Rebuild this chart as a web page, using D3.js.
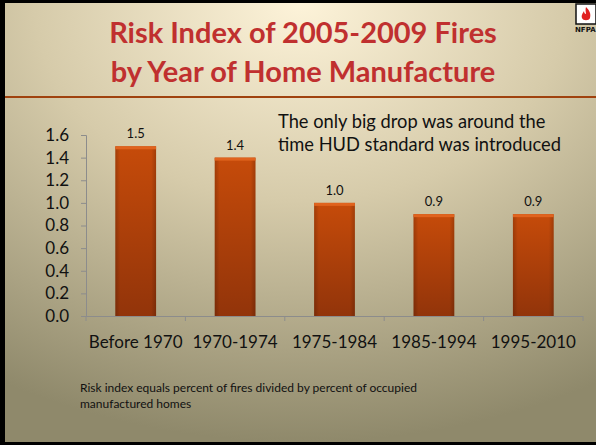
<!DOCTYPE html>
<html><head><meta charset="utf-8">
<script src="https://cdn.jsdelivr.net/npm/d3@7"></script>
<style>html,body{margin:0;padding:0;background:#000;}svg{display:block;}</style>
</head><body>
<svg id="c" width="596" height="445"></svg>
<script>
const categories = ["Before 1970","1970-1974","1975-1984","1985-1994","1995-2010"];
const values = [1.5, 1.4, 1.0, 0.9, 0.9];
const valueLabels = ["1.5","1.4","1.0","0.9","0.9"];
const yTicks = [0,0.2,0.4,0.6,0.8,1.0,1.2,1.4,1.6];
const titleLines = ["Risk Index of 2005-2009 Fires","by Year of Home Manufacture"];
const noteLines = ["The only big drop was around the","time HUD standard was introduced"];
const footLines = ["Risk index equals percent of fires divided by percent of occupied","manufactured homes"];

const svg = d3.select("#c");
const defs = svg.append("defs");
const FONT = "Lato, 'Open Sans', sans-serif";

// background gradient
const rg = defs.append("radialGradient").attr("id","bg")
  .attr("cx","0.5").attr("cy","0.0").attr("r","1.0").attr("fx","0.5").attr("fy","0.0");
rg.append("stop").attr("offset","0").attr("stop-color","#fdf3d9");
rg.append("stop").attr("offset","0.45").attr("stop-color","#d6cbaa");
rg.append("stop").attr("offset","1").attr("stop-color","#8f896b");

const bg = defs.append("linearGradient").attr("id","bar").attr("x1","0").attr("y1","0").attr("x2","0").attr("y2","1");
bg.append("stop").attr("offset","0").attr("stop-color","#c64b0a");
bg.append("stop").attr("offset","1").attr("stop-color","#92340a");
const bh = defs.append("linearGradient").attr("id","barh").attr("x1","0").attr("y1","0").attr("x2","1").attr("y2","0");
bh.append("stop").attr("offset","0").attr("stop-color","#000").attr("stop-opacity","0.18");
bh.append("stop").attr("offset","0.12").attr("stop-color","#000").attr("stop-opacity","0");
bh.append("stop").attr("offset","0.88").attr("stop-color","#000").attr("stop-opacity","0");
bh.append("stop").attr("offset","1").attr("stop-color","#000").attr("stop-opacity","0.18");

svg.append("rect").attr("x",5).attr("y",3).attr("width",591).attr("height",439).attr("fill","url(#bg)");

// title
svg.append("g").selectAll("text").data(titleLines).join("text")
  .attr("x",303).attr("y",(d,i)=>43+i*39).attr("text-anchor","middle")
  .attr("font-family",FONT).attr("font-weight","bold").attr("font-size",29)
  .attr("fill","#c0302f").text(d=>d);

// separator
svg.append("line").attr("x1",5).attr("x2",596).attr("y1",97).attr("y2",97)
  .attr("stroke","#a0420e").attr("stroke-width",2);

// logo
const lg = svg.append("g").attr("transform","translate(576,4)");
lg.append("rect").attr("x",0).attr("y",0).attr("width",20).attr("height",20).attr("fill","#fff").attr("stroke","#111").attr("stroke-width",1.5);
lg.append("path").attr("d","M10,3 C14,7 15,10 14,14 C13,17 7,17 6,14 C5,11 7,9 8,7 C8,9 9,10 10,10 C10,8 9,6 10,3Z").attr("fill","#e02020");
lg.append("text").attr("x",-1).attr("y",28).attr("font-family","DejaVu Sans, sans-serif").attr("font-weight","bold").attr("font-size",7).attr("fill","#111").text("NFPA");

// chart
const x = d3.scaleBand().domain(categories).range([86,583]).paddingInner(0.59).paddingOuter(0.295);
const y = d3.scaleLinear().domain([0,1.6]).range([316,135]);

const ax = svg.append("g").attr("transform","translate(86,0)")
  .call(d3.axisLeft(y).tickValues(yTicks).tickFormat(d3.format(".1f")).tickSize(5).tickPadding(12));
ax.select(".domain").attr("stroke","#8c8c8c");
ax.selectAll(".tick line").attr("stroke","#8c8c8c");
ax.selectAll("text").attr("font-family",FONT).attr("font-size",17).attr("fill","#111");

// x axis line and category ticks
const xb = d3.scaleBand().domain(categories).range([86,583]);
svg.append("line").attr("x1",86).attr("x2",583).attr("y1",316.5).attr("y2",316.5).attr("stroke","#8c8c8c");
svg.append("g").selectAll("line").data(categories.concat(["end"])).join("line")
  .attr("x1",(d,i)=>i<categories.length?xb(d):583).attr("x2",(d,i)=>i<categories.length?xb(d):583)
  .attr("y1",316).attr("y2",321).attr("stroke","#8c8c8c");
svg.append("g").selectAll("text").data(categories).join("text")
  .attr("x",d=>xb(d)+xb.bandwidth()/2).attr("y",348).attr("text-anchor","middle")
  .attr("font-family",FONT).attr("font-size",17).attr("fill","#111").text(d=>d);

// bars
const bars = svg.append("g");
bars.selectAll("rect.b").data(values).join("rect").attr("class","b")
  .attr("x",(d,i)=>x(categories[i])).attr("width",x.bandwidth())
  .attr("y",d=>y(d)).attr("height",d=>y(0)-y(d)).attr("fill","url(#bar)");
bars.selectAll("rect.h").data(values).join("rect").attr("class","h")
  .attr("x",(d,i)=>x(categories[i])).attr("width",x.bandwidth())
  .attr("y",d=>y(d)).attr("height",d=>y(0)-y(d)).attr("fill","url(#barh)");
bars.selectAll("rect.t").data(values).join("rect").attr("class","t")
  .attr("x",(d,i)=>x(categories[i])).attr("width",x.bandwidth())
  .attr("y",d=>y(d)).attr("height",3).attr("fill","#e0631e");

svg.append("g").selectAll("text").data(values).join("text")
  .attr("x",(d,i)=>x(categories[i])+x.bandwidth()/2).attr("y",d=>y(d)-8)
  .attr("text-anchor","middle").attr("font-family",FONT).attr("font-size",13).attr("fill","#111")
  .text((d,i)=>valueLabels[i]);

// note
svg.append("g").selectAll("text").data(noteLines).join("text")
  .attr("x",278).attr("y",(d,i)=>128+i*23).attr("font-family",FONT).attr("font-size",18.3).attr("fill","#111").text(d=>d);

// footnote
svg.append("g").selectAll("text").data(footLines).join("text")
  .attr("x",80).attr("y",(d,i)=>392+i*16).attr("font-family",FONT).attr("font-size",12).attr("fill","#111").text(d=>d);
</script>
</body></html>
